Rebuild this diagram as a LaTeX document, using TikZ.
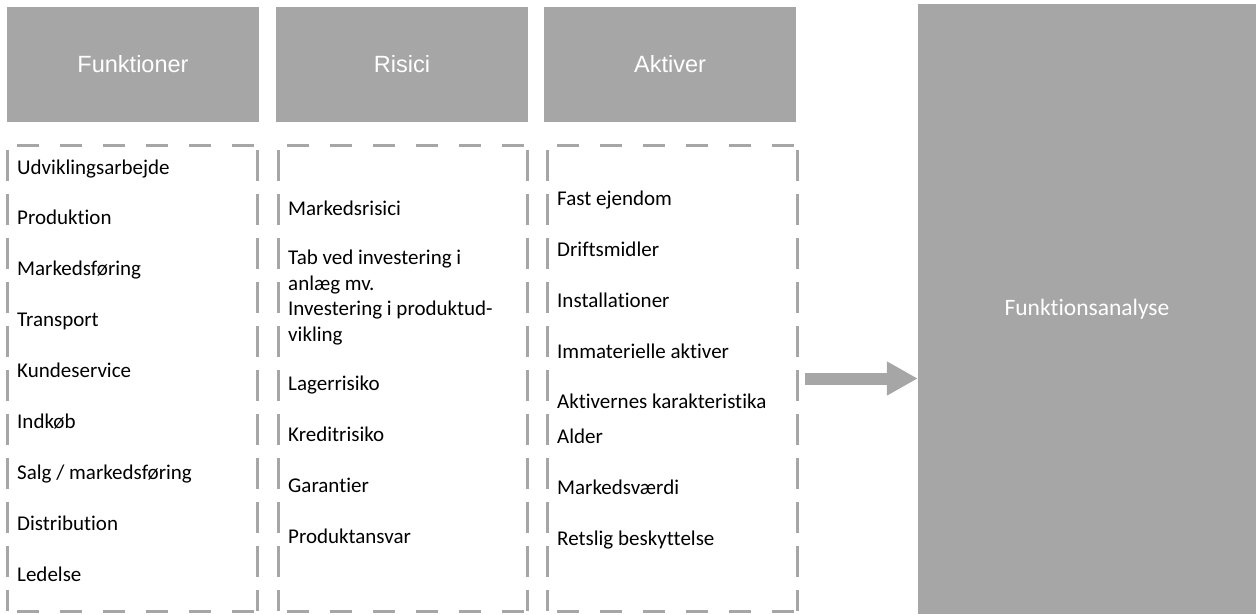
\documentclass[tikz,border=0pt]{standalone}
\usepackage{fontspec}
\setmainfont{Carlito}[Ligatures=NoCommon]
\newfontfamily\headfont{Liberation Sans}
\usetikzlibrary{arrows.meta}
\definecolor{boxgray}{HTML}{A6A6A6}

\begin{document}
\begin{tikzpicture}[x=1pt, y=-1pt,
		head/.style={fill=boxgray, text=white, inner sep=0pt, minimum width=252pt, minimum height=115pt, font=\headfont\fontsize{23.5}{28}\selectfont},
		list/.style={inner sep=0pt, minimum width=249pt, minimum height=465pt},
		hdash/.style={boxgray, line width=3pt, dash pattern=on 22pt off 21pt, dash phase=-9pt},
		vdash/.style={boxgray, line width=3pt, dash pattern=on 31pt off 13pt, dash phase=-4pt},
		item/.style={anchor=base west, inner sep=0pt, align=left, font=\fontsize{21}{26}\selectfont}]
		\useasboundingbox (0,0) rectangle (1256,614);
		
		% Headers
		\node[head] (funhead) at (133, 64.5) {Funktioner};
		\node[head] (riskhead) at (402, 64.5) {Risici};
		\node[head] (akthead) at (670, 64.5) {Aktiver};
		
		% Lists
		\node[list] (funlist) at (132.5, 378.5) {};
		\node[list] (risklist) at (403, 378.5) {};
		\node[list] (aktlist) at (672.5, 378.5) {};
		\foreach \n in {funlist, risklist, aktlist} {
			\draw[hdash] (\n.north west) -- (\n.north east) (\n.south west) -- (\n.south east);
			\draw[vdash] (\n.north west) -- (\n.south west) (\n.north east) -- (\n.south east);
		}
		
		\foreach \t [count=\i] in {Udviklingsarbejde, Produktion, Markedsføring, Transport, Kundeservice, Indkøb, Salg / markedsføring, Distribution, Ledelse}
			\node[item] (fun\i) at (17, {174+50.9*(\i-1)}) {\t};
		
		% two-line items sit on their last baseline
		\foreach \y/\t [count=\i] in {215/Markedsrisici, 290/{Tab ved investering i\\anlæg mv.}, 341/{Investering i produktud-\\vikling}, 390/Lagerrisiko, 441/Kreditrisiko, 492/Garantier, 543/Produktansvar}
			\node[item] (risk\i) at (288, \y) {\t};
		
		\foreach \y/\t [count=\i] in {205/Fast ejendom, 256/Driftsmidler, 307/Installationer, 358/Immaterielle aktiver, 408/Aktivernes karakteristika, 443/Alder, 494/Markedsværdi, 545/Retslig beskyttelse}
			\node[item] (akt\i) at (557, \y) {\t};
		
		% Result
		\node[fill=boxgray, text=white, inner sep=0pt, minimum width=338pt, minimum height=610pt, font=\fontsize{23.5}{28}\selectfont] (analyse) at (1087, 309) {Funktionsanalyse};
		
		\draw[boxgray, line width=12pt, -{Triangle[length=31pt, width=32pt]}, shorten <=8pt] (aktlist.east) -- (aktlist.east -| analyse.west);
	\end{tikzpicture}
\end{document}
